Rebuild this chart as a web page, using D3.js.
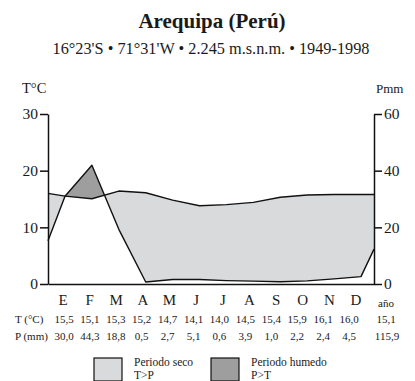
<!DOCTYPE html>
<html>
<head>
<meta charset="utf-8">
<script src="https://cdn.jsdelivr.net/npm/d3@7"></script>
<style>
  body { margin: 0; background: #fff; }
  svg text { font-family: "Liberation Serif", "Times New Roman", "Liberation Sans", Arial, sans-serif !important; fill: #1a1a1a; }
</style>
</head>
<body>
<svg id="chart" width="415" height="381"></svg>
<script>
// Month initials and the values printed in the table
var months = ["E", "F", "M", "A", "M", "J", "J", "A", "S", "O", "N", "D"];
var tempTable = ["15,5", "15,1", "15,3", "15,2", "14,7", "14,1", "14,0", "14,5", "15,4", "15,9", "16,1", "16,0"];
var precTable = ["30,0", "44,3", "18,8", "0,5", "2,7", "5,1", "0,6", "3,9", "1,0", "2,2", "2,4", "4,5"];
var tempYear = "15,1";
var precYear = "115,9";

// Values as drawn by the curves
var tempLine = [15.5, 15.05, 16.4, 16.1, 14.8, 13.8, 14.0, 14.4, 15.3, 15.7, 15.8, 15.8];
var precLine = [31, 41.9, 19.3, 0.7, 1.6, 1.6, 1.2, 1.0, 0.8, 1.1, 1.8, 2.6];
// values where the curves meet the side axes
var tempEdges = [16.0, 15.8];
var precEdges = [15.3, 12.3];

var tempTicks = [0, 10, 20, 30];
var precTicks = [0, 20, 40, 60];

var svg = d3.select("#chart");
var fontStack = "'Liberation Serif', 'Times New Roman', 'Liberation Sans', Arial, sans-serif";

var plotLeft = 48, plotRight = 374, plotTop = 114, plotBottom = 284;

var yT = d3.scaleLinear().domain([0, 30]).range([plotBottom, plotTop]);
var yP = d3.scaleLinear().domain([0, 60]).range([plotBottom, plotTop]);
var xMonth = d3.scaleLinear().domain([0, 11]).range([65, 361]);
var xLabel = d3.scaleLinear().domain([0, 11]).range([63, 356]);
var xTable = d3.scaleLinear().domain([0, 11]).range([64, 349]);

// build point lists: edge, months, edge
function buildPoints(values, edges, scale) {
    var pts = [{x: plotLeft, y: scale(edges[0])}];
    values.forEach(function(v, i) {
        pts.push({x: xMonth(i), y: scale(v)});
    });
    pts.push({x: plotRight, y: scale(edges[1])});
    return pts;
}
var tPts = buildPoints(tempLine, tempEdges, yT);
var pPts = buildPoints(precLine, precEdges, yP);

// Titles
svg.append("text")
    .attr("x", 212)
    .attr("y", 28)
    .attr("text-anchor", "middle")
    .attr("font-size", "21px")
    .attr("font-weight", "bold")
    .text("Arequipa (Perú)");

svg.append("text")
    .attr("x", 211)
    .attr("y", 54)
    .attr("text-anchor", "middle")
    .attr("font-size", "16.3px")
    .text("16°23'S • 71°31'W • 2.245 m.s.n.m. • 1949-1998");

// clip paths for the two periods
var defs = svg.append("defs");

var aboveArea = function(pts) {
    return d3.area()
        .x(function(d) { return d.x; })
        .y0(plotTop - 20)
        .y1(function(d) { return d.y; })(pts);
};
var belowArea = function(pts) {
    return d3.area()
        .x(function(d) { return d.x; })
        .y0(function(d) { return d.y; })
        .y1(plotBottom)(pts);
};

defs.append("clipPath").attr("id", "aboveP")
    .append("path").attr("d", aboveArea(pPts));
defs.append("clipPath").attr("id", "aboveT")
    .append("path").attr("d", aboveArea(tPts));

// Dry period: T above P
svg.append("path")
    .attr("d", belowArea(tPts))
    .attr("clip-path", "url(#aboveP)")
    .attr("fill", "#d9dadc");

// Humid period: P above T
svg.append("path")
    .attr("d", belowArea(pPts))
    .attr("clip-path", "url(#aboveT)")
    .attr("fill", "#9e9e9e");

var line = d3.line()
    .x(function(d) { return d.x; })
    .y(function(d) { return d.y; });

svg.append("path")
    .attr("d", line(tPts))
    .attr("fill", "none")
    .attr("stroke", "#111")
    .attr("stroke-width", 1.4)
    .attr("stroke-linejoin", "round");

svg.append("path")
    .attr("d", line(pPts))
    .attr("fill", "none")
    .attr("stroke", "#111")
    .attr("stroke-width", 1.4)
    .attr("stroke-linejoin", "round");

// Axes
var xAxis = d3.axisBottom(d3.scaleLinear().range([plotLeft, plotRight]))
    .tickValues([])
    .tickSizeOuter(0);

svg.append("g")
    .attr("class", "x axis")
    .attr("transform", "translate(0," + plotBottom + ")")
    .call(xAxis);

svg.append("g")
    .attr("class", "y axis")
    .attr("transform", "translate(" + plotLeft + ",0)")
    .call(d3.axisLeft(yT).tickValues(tempTicks).tickSize(8).tickPadding(2).tickSizeOuter(0));

svg.append("g")
    .attr("class", "y axis")
    .attr("transform", "translate(" + plotRight + ",0)")
    .call(d3.axisRight(yP).tickValues(precTicks).tickSize(8).tickPadding(2).tickSizeOuter(0));

svg.selectAll(".axis")
    .attr("font-family", fontStack);
svg.selectAll(".axis path, .axis line")
    .attr("stroke", "#111")
    .attr("stroke-width", 1.5);
svg.selectAll(".axis text")
    .attr("font-size", "15.5px")
    .attr("fill", "#1a1a1a");

// axis titles
svg.append("text")
    .attr("x", 22)
    .attr("y", 93)
    .attr("font-size", "14.5px")
    .text("T°C");

svg.append("text")
    .attr("x", 376)
    .attr("y", 93)
    .attr("font-size", "13px")
    .text("Pmm");

// Month labels
svg.selectAll(".month")
    .data(months)
    .enter()
    .append("text")
    .attr("class", "month")
    .attr("x", function(d, i) { return xLabel(i); })
    .attr("y", 305)
    .attr("text-anchor", "middle")
    .attr("font-size", "15px")
    .text(function(d) { return d; });

svg.append("text")
    .attr("x", 386)
    .attr("y", 307)
    .attr("text-anchor", "middle")
    .attr("font-size", "11px")
    .text("año");

// Table rows
svg.append("text")
    .attr("x", 15)
    .attr("y", 322.5)
    .attr("font-size", "11px")
    .text("T (°C)");

svg.append("text")
    .attr("x", 15)
    .attr("y", 339.5)
    .attr("font-size", "11px")
    .text("P (mm)");

svg.selectAll(".tval")
    .data(tempTable)
    .enter()
    .append("text")
    .attr("class", "tval")
    .attr("x", function(d, i) { return xTable(i); })
    .attr("y", 322.5)
    .attr("text-anchor", "middle")
    .attr("font-size", "11px")
    .text(function(d) { return d; });

svg.selectAll(".pval")
    .data(precTable)
    .enter()
    .append("text")
    .attr("class", "pval")
    .attr("x", function(d, i) { return xTable(i); })
    .attr("y", 339.5)
    .attr("text-anchor", "middle")
    .attr("font-size", "11px")
    .text(function(d) { return d; });

svg.append("text")
    .attr("x", 386)
    .attr("y", 322.5)
    .attr("text-anchor", "middle")
    .attr("font-size", "11px")
    .text(tempYear);

svg.append("text")
    .attr("x", 387)
    .attr("y", 339.5)
    .attr("text-anchor", "middle")
    .attr("font-size", "11px")
    .text(precYear);

// Legend
var legendItems = [
    {fill: "#d9dadc", x: 94, lines: ["Periodo seco", "T>P"]},
    {fill: "#9e9e9e", x: 211, lines: ["Periodo humedo", "P>T"]}
];

var legend = svg.selectAll(".legend")
    .data(legendItems)
    .enter()
    .append("g")
    .attr("class", "legend")
    .attr("transform", function(d) { return "translate(" + d.x + ",358)"; });

legend.append("rect")
    .attr("width", 28)
    .attr("height", 23)
    .attr("fill", function(d) { return d.fill; })
    .attr("stroke", "#111")
    .attr("stroke-width", 1.2);

legend.selectAll("text")
    .data(function(d) { return d.lines; })
    .enter()
    .append("text")
    .attr("x", 40)
    .attr("y", function(d, i) { return 8 + i * 13; })
    .attr("font-size", "11.5px")
    .text(function(d) { return d; });
</script>
</body>
</html>
